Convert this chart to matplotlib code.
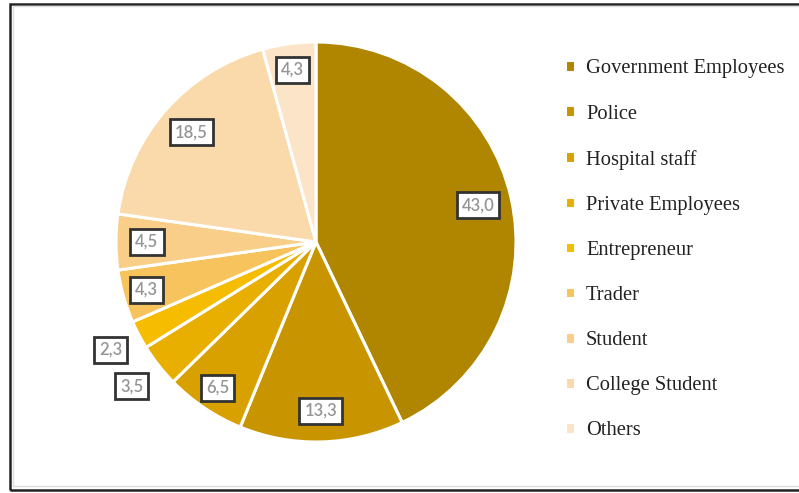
import numpy as np
import matplotlib
matplotlib.use("Agg")
import matplotlib.pyplot as plt
from matplotlib.patches import Rectangle

categories = ["Government Employees", "Police", "Hospital staff", "Private Employees",
              "Entrepreneur", "Trader", "Student", "College Student", "Others"]
values = [43.0, 13.3, 6.5, 3.5, 2.3, 4.3, 4.5, 18.5, 4.3]
colors = ["#B08500", "#C89500", "#D8A100", "#E8AE00", "#F6BC00",
          "#F7C35C", "#F8CE88", "#FAD9AA", "#FCE4C8"]
# how far from the centre each value label sits (pie radius = 1)
label_r = [0.83, 0.845, 0.88, 1.17, 1.16, 0.88, 0.845, 0.83, 0.87]

fig = plt.figure(figsize=(7.99, 4.93), dpi=100)

# outer frame of the screenshot
W, H = 799, 493
fig.patches.append(Rectangle((10 / W, 3 / H), 1.0, 1 - 7 / H, transform=fig.transFigure,
                             fill=False, edgecolor="#222222", linewidth=1.8, clip_on=False))
fig.patches.append(Rectangle((13 / W, 7 / H), 1.0, 1 - 13 / H, transform=fig.transFigure,
                             fill=False, edgecolor="#dddddd", linewidth=1.0, clip_on=False))

ax = fig.add_axes([116 / W, (493 - 442) / H, 400 / W, 400 / H])
wedges, _ = ax.pie(values, colors=colors, startangle=90, counterclock=False,
                   wedgeprops=dict(edgecolor="white", linewidth=2.2))
ax.set_xlim(-1, 1)
ax.set_ylim(-1, 1)
ax.set_aspect("equal")

for w, v, r in zip(wedges, values, label_r):
    ang = np.deg2rad((w.theta1 + w.theta2) / 2)
    ax.text(r * np.cos(ang), r * np.sin(ang), f"{v:.1f}".replace(".", ","),
            ha="center", va="center", fontsize=12, family="Lato", fontweight="semibold",
            color="#959595", clip_on=False,
            bbox=dict(boxstyle="square,pad=0.3", facecolor="white",
                      edgecolor="#333333", linewidth=2.0))

leg = fig.legend(wedges, categories, loc="upper left", bbox_to_anchor=(546 / W, 1 - 41 / H),
                 frameon=False, handlelength=0.5, handleheight=0.5, handletextpad=0.55,
                 labelspacing=1.27, prop=dict(family="Liberation Serif", size=14.8))
for t in leg.get_texts():
    t.set_color("#222222")

fig.savefig("out.png", dpi=100)
